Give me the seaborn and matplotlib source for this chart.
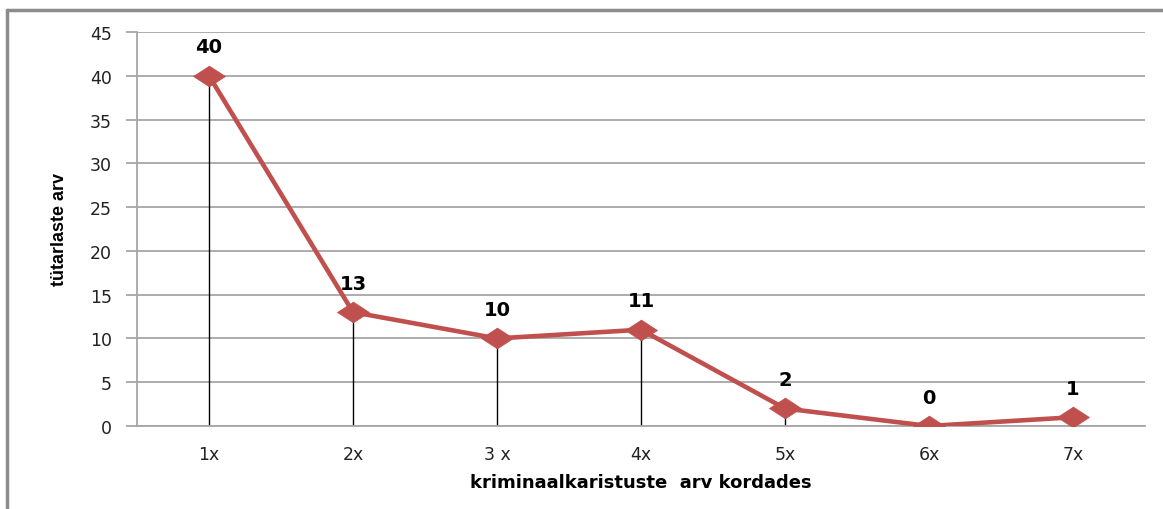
import matplotlib
matplotlib.use("Agg")
import matplotlib.pyplot as plt
import seaborn as sns
import pandas as pd
from matplotlib.lines import Line2D

categories = ["1x", "2x", "3 x", "4x", "5x", "6x", "7x"]
values = [40, 13, 10, 11, 2, 0, 1]
y_ticks = [0, 5, 10, 15, 20, 25, 30, 35, 40, 45]
x_label = "kriminaalkaristuste  arv kordades"
y_label = "tütarlaste arv"

sns.set_theme(style="white")
plt.rcParams['font.family'] = ['DejaVu Sans']

df = pd.DataFrame({"cat": categories, "val": values})

W, H = 1163, 510
fig = plt.figure(figsize=(W / 100, H / 100), dpi=100)
fig.patch.set_facecolor("white")
ax = fig.add_axes([137 / W, 1 - 427 / H, (1145 - 137) / W, (427 - 33) / H])

grid_c = "#a6a6a6"
ax.set_ylim(0, 45)
ax.set_yticks(y_ticks)
ax.yaxis.grid(True, color=grid_c, linewidth=1.3)
ax.set_axisbelow(True)

pos = list(range(len(categories)))
# drop lines
ax.vlines(pos, 0, values, color="black", linewidth=1.0, zorder=2)

wide_diamond = [(-1, 0), (0, 0.65), (1, 0), (0, -0.65), (-1, 0)]
sns.lineplot(data=df, x="cat", y="val", ax=ax, color="#c0504d", linewidth=3.3,
             marker=wide_diamond, markersize=23, markeredgecolor="#c0504d",
             markeredgewidth=0.5, zorder=3, sort=False)
ax.set_xlim(-0.5, len(categories) - 0.5)
ax.set_ylim(0, 45)

for p, v in zip(pos, values):
    ax.annotate(str(v), (p, v), xytext=(0, 14), textcoords="offset points",
                ha="center", va="bottom", fontsize=14, fontweight="bold", color="black")

for s in ["top", "right"]:
    ax.spines[s].set_visible(False)
ax.spines["left"].set_color(grid_c)
ax.spines["left"].set_linewidth(1.3)
ax.spines["bottom"].set_color(grid_c)
ax.spines["bottom"].set_linewidth(1.3)

ax.tick_params(axis="y", which="both", left=True, length=8, width=1.3, color=grid_c,
               labelsize=12.5, labelcolor="#222222", pad=10)
ax.tick_params(axis="x", bottom=False, labelsize=12.5, labelcolor="#222222", pad=8)

ax.set_xlabel(x_label, fontsize=13, fontweight="bold", color="black", labelpad=7)
ax.set_ylabel(y_label, fontsize=13, fontweight="bold", color="black",
              family=["Liberation Sans Narrow", "Liberation Sans", "DejaVu Sans"], labelpad=16)

# outer frame (left and top)
fig.add_artist(Line2D([7 / W, 7 / W], [0, 1 - 11 / H], transform=fig.transFigure,
                      color="#8c8c8c", linewidth=2.5))
fig.add_artist(Line2D([7 / W, 1], [1 - 11 / H, 1 - 11 / H], transform=fig.transFigure,
                      color="#8c8c8c", linewidth=2.5))

fig.savefig("out.png", dpi=100)
